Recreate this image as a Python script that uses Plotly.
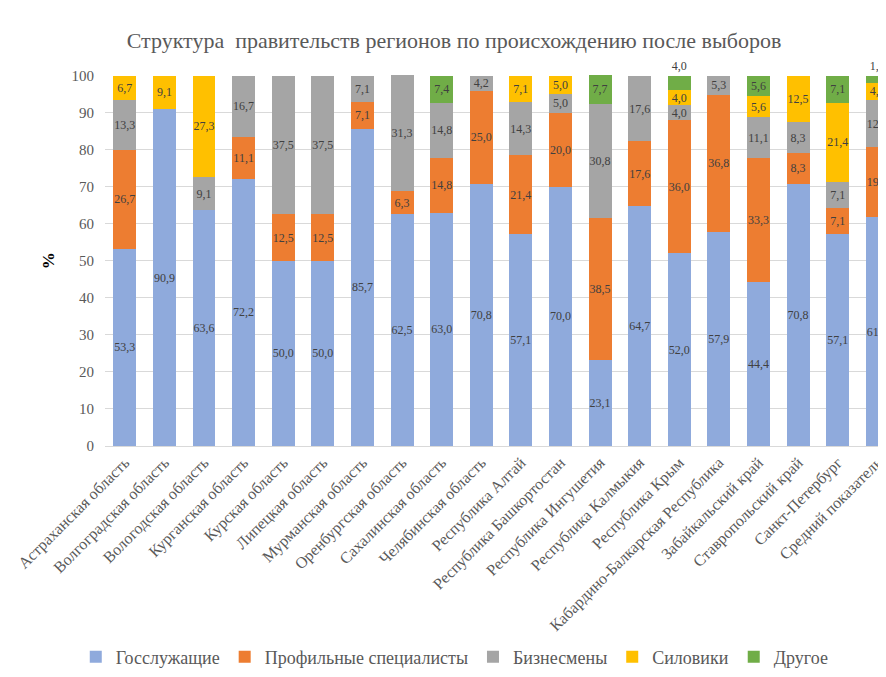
import plotly.graph_objects as go

regions = [
    "Астраханская область", "Волгоградская область", "Вологодская область",
    "Курганская область", "Курская область", "Липецкая область",
    "Мурманская область", "Оренбургская область", "Сахалинская область",
    "Челябинская область", "Республика Алтай", "Республика Башкортостан",
    "Республика Ингушетия", "Республика Калмыкия", "Республика Крым",
    "Кабардино-Балкарская Республика", "Забайкальский край",
    "Ставропольский край", "Санкт-Петербург", "Средний показатель",
]

gossluzh = [53.3, 90.9, 63.6, 72.2, 50.0, 50.0, 85.7, 62.5, 63.0, 70.8,
            57.1, 70.0, 23.1, 64.7, 52.0, 57.9, 44.4, 70.8, 57.1, 61.7]
profil = [26.7, 0, 0, 11.1, 12.5, 12.5, 7.1, 6.3, 14.8, 25.0,
          21.4, 20.0, 38.5, 17.6, 36.0, 36.8, 33.3, 8.3, 7.1, 19.0]
biznes = [13.3, 0, 9.1, 16.7, 37.5, 37.5, 7.1, 31.3, 14.8, 4.2,
          14.3, 5.0, 30.8, 17.6, 4.0, 5.3, 11.1, 8.3, 7.1, 12.7]
silovik = [6.7, 9.1, 27.3, 0, 0, 0, 0, 0, 0, 0,
           7.1, 5.0, 0, 0, 4.0, 0, 5.6, 12.5, 21.4, 4.7]
drugoe = [0, 0, 0, 0, 0, 0, 0, 0, 7.4, 0,
          0, 0, 7.7, 0, 4.0, 0, 5.6, 0, 7.1, 1.9]

series = [
    ("Госслужащие", gossluzh, "#8FAADC"),
    ("Профильные специалисты", profil, "#ED7D31"),
    ("Бизнесмены", biznes, "#A5A5A5"),
    ("Силовики", silovik, "#FFC000"),
    ("Другое", drugoe, "#70AD47"),
]

FONT = "Liberation Serif, DejaVu Serif"
TXT = "#404040"
GREY = "#595959"


def labels(vals):
    return [f"{v:.1f}".replace(".", ",") if v > 0 else "" for v in vals]


fig = go.Figure()
for name, vals, color in series:
    pos = "inside"
    if name == "Другое":
        # маленькие доли подписаны над столбцом
        pos = ["outside" if 0 < v < 3 or v == 4.0 else "inside" for v in vals]
    fig.add_trace(go.Bar(
        x=regions, y=vals, name=name, marker_color=color, marker_line_width=0,
        text=labels(vals), textposition=pos, textangle=0,
        insidetextanchor="middle", constraintext="none", cliponaxis=False,
        textfont=dict(family=FONT, size=12, color=TXT),
    ))

# страница рисуется со сдвигом 8px (отступ body), поэтому фигура чуть меньше окна
fig.update_layout(
    barmode="stack",
    bargap=0.42,
    width=878, height=669,
    margin=dict(l=97, r=0, t=67, b=231),
    paper_bgcolor="white", plot_bgcolor="white",
    font=dict(family=FONT, color=GREY),
    title=dict(text="Структура  правительств регионов по происхождению после выборов",
               x=0.508, xanchor="center", y=0.951, yanchor="middle",
               font=dict(family=FONT, size=22, color=GREY)),
    legend=dict(orientation="h", x=0.449, xanchor="center", y=-0.569, yanchor="middle",
                font=dict(family=FONT, size=18, color=GREY), traceorder="normal",
                itemwidth=30),
    showlegend=True,
)
fig.update_xaxes(range=[-0.5, 19.17], tickangle=-45, showline=True, linecolor="#D9D9D9",
                 tickfont=dict(family=FONT, size=16, color=GREY), ticks="")
fig.update_yaxes(range=[0, 100.15], tickvals=list(range(0, 101, 10)), showgrid=True,
                 gridcolor="#D9D9D9", zeroline=False,
                 tickfont=dict(family=FONT, size=15, color=GREY),
                 ticks="", ticklabelstandoff=10)
fig.add_annotation(text="<b>%</b>", xref="paper", yref="paper", x=-0.087, y=0.5,
                   textangle=-90, showarrow=False, font=dict(family=FONT, size=17, color="#000000"))

fig.write_html("out.html")
